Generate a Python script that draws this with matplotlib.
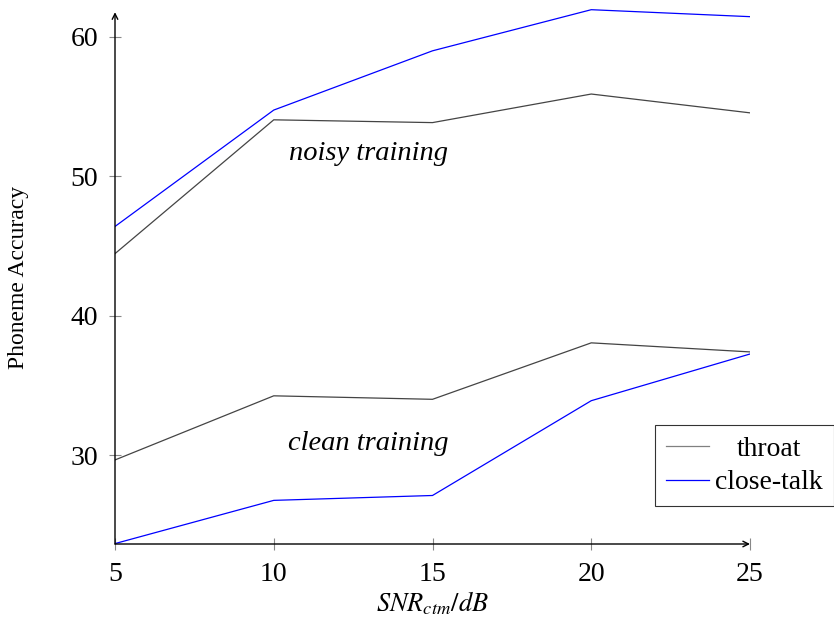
import matplotlib
matplotlib.use("Agg")
import matplotlib.pyplot as plt

# === Data ===
snr = [5, 10, 15, 20, 25]
noisy_throat = [44.45, 54.05, 53.85, 55.9, 54.55]
noisy_close = [46.4, 54.75, 59.0, 61.95, 61.45]
clean_throat = [29.65, 34.25, 34.0, 38.05, 37.4]
clean_close = [23.65, 26.75, 27.1, 33.9, 37.25]

plt.rcParams['font.family'] = ['Liberation Serif', 'DejaVu Serif']
plt.rcParams['mathtext.fontset'] = 'stix'

fig = plt.figure(figsize=(8.34, 6.19), dpi=100)
ax = fig.add_axes([115 / 834, 75 / 619, 635 / 834, 535 / 619])

ax.plot(snr, noisy_throat, color='#444444', lw=0.9, label='throat')
ax.plot(snr, noisy_close, color='blue', lw=0.9, label='close-talk')
ax.plot(snr, clean_throat, color='#444444', lw=0.9)
ax.plot(snr, clean_close, color='blue', lw=0.9)

ax.set_xlim(5, 25)
ax.set_ylim(23.62, 62)
ax.set_xticks(snr)
ax.set_yticks([30, 40, 50, 60])
ax.tick_params(direction='inout', length=8, width=0.8, color='#888888',
               labelsize=20)
ax.tick_params(axis='x', pad=9)
ax.tick_params(axis='y', pad=8)

# axis lines with arrows (pgfplots style)
for s in ['top', 'right', 'left', 'bottom']:
    ax.spines[s].set_visible(False)
ax.annotate('', xy=(1, 0), xytext=(0, 0), xycoords='axes fraction',
            arrowprops=dict(arrowstyle='->', lw=1.0, color='black',
                            shrinkA=0, shrinkB=0))
ax.annotate('', xy=(0, 0.994), xytext=(0, 0), xycoords='axes fraction',
            arrowprops=dict(arrowstyle='->', lw=1.0, color='black',
                            shrinkA=0, shrinkB=0))

ax.text(12.97, 51.6, 'noisy training', style='italic', fontsize=20.5,
        ha='center', va='center')
ax.text(12.97, 30.85, 'clean training', style='italic', fontsize=20.5,
        ha='center', va='center')

fig.text(432 / 834, 1 - 603 / 619, r'$SNR_{ctm}/dB$', fontsize=19,
         ha='center', va='center')
fig.text(19 / 834, 1 - 277 / 619, 'Phoneme Accuracy', fontsize=17,
         rotation=90, ha='center', va='center')

leg = fig.legend(loc='upper left', bbox_to_anchor=(655 / 834, 1 - 425 / 619),
                 fontsize=20, frameon=True, fancybox=False, handlelength=1.55,
                 handletextpad=0.2, borderpad=0.4, labelspacing=0.3,
                 borderaxespad=0)
leg.get_frame().set_edgecolor('black')
leg.get_frame().set_linewidth(0.8)
leg.get_lines()[0].set_color('#808080')

# centre the legend labels in their column, like pgfplots does
fig.canvas.draw()
r = fig.canvas.get_renderer()
widths = [t.get_window_extent(r).width for t in leg.get_texts()]
for t, w in zip(leg.get_texts(), widths):
    t.set_position(((max(widths) - w) / 2, 0))

fig.savefig('out.png', dpi=100)
